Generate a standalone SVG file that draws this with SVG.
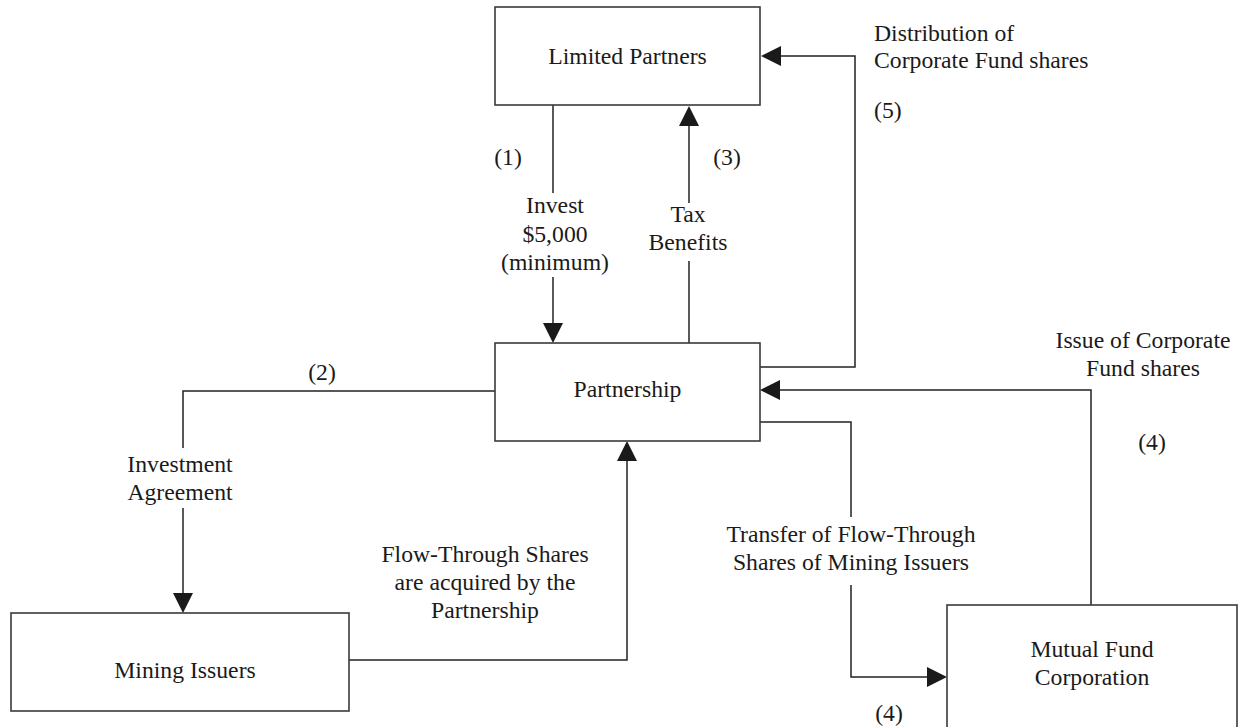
<svg xmlns="http://www.w3.org/2000/svg" width="1241" height="727" viewBox="0 0 1241 727">
<style>
.box{fill:#fff;stroke:#3a3a3a;stroke-width:1.6}
.ln{fill:none;stroke:#222;stroke-width:1.5}
text{font-family:"Liberation Serif","Times New Roman",serif;font-size:23.7px;fill:#1a1a1a}
.c{text-anchor:middle}
</style>
<defs>
<marker id="ah" viewBox="0 0 20 20" markerWidth="20" markerHeight="20" refX="0" refY="10" orient="auto" markerUnits="userSpaceOnUse">
<path d="M0,0 L20,10 L0,20 z" fill="#1a1a1a"/>
</marker>
</defs>
<rect width="1241" height="727" fill="#fff"/>
<g id="connectors">
<path class="ln" d="M553,105 V193"/>
<path class="ln" d="M553,277 V323" marker-end="url(#ah)"/>
<path class="ln" d="M689,343 V261"/>
<path class="ln" d="M689,203 V126" marker-end="url(#ah)"/>
<path class="ln" d="M760,367 H855 V56 H781" marker-end="url(#ah)"/>
<path class="ln" d="M495,391 H183 V448"/>
<path class="ln" d="M183,508 V593" marker-end="url(#ah)"/>
<path class="ln" d="M349,660 H627 V461" marker-end="url(#ah)"/>
<path class="ln" d="M760,422 H851 V517"/>
<path class="ln" d="M851,585 V677 H927" marker-end="url(#ah)"/>
<path class="ln" d="M1091,605 V390 H780" marker-end="url(#ah)"/>
</g>
<g id="labels">
<text class="c" x="508" y="165">(1)</text>
<text class="c" x="727" y="165">(3)</text>
<text class="c" x="555" y="213">Invest</text>
<text class="c" x="555" y="242">$5,000</text>
<text class="c" x="555" y="270">(minimum)</text>
<text class="c" x="688" y="222">Tax</text>
<text class="c" x="688" y="250">Benefits</text>
<text x="874" y="41">Distribution of</text>
<text x="874" y="68">Corporate Fund shares</text>
<text x="874" y="118">(5)</text>
<text class="c" x="322" y="380">(2)</text>
<text class="c" x="180" y="472">Investment</text>
<text class="c" x="180" y="500">Agreement</text>
<text class="c" x="485" y="562">Flow-Through Shares</text>
<text class="c" x="485" y="590">are acquired by the</text>
<text class="c" x="485" y="618">Partnership</text>
<text class="c" x="851" y="542">Transfer of Flow-Through</text>
<text class="c" x="851" y="570">Shares of Mining Issuers</text>
<text class="c" x="1143" y="348">Issue of Corporate</text>
<text class="c" x="1143" y="376">Fund shares</text>
<text class="c" x="1152" y="450">(4)</text>
<text class="c" x="889" y="721">(4)</text>
</g>
<g id="node-limited-partners">
<rect class="box" x="495" y="7" width="265" height="98"/>
<text class="c" x="627.5" y="64">Limited Partners</text>
</g>
<g id="node-partnership">
<rect class="box" x="495" y="343" width="265" height="98"/>
<text class="c" x="627.5" y="397">Partnership</text>
</g>
<g id="node-mining-issuers">
<rect class="box" x="11" y="613" width="338" height="98"/>
<text class="c" x="185" y="678">Mining Issuers</text>
</g>
<g id="node-mutual-fund">
<rect class="box" x="947" y="605" width="290" height="130"/>
<text class="c" x="1092" y="657">Mutual Fund</text>
<text class="c" x="1092" y="685">Corporation</text>
</g>
</svg>
